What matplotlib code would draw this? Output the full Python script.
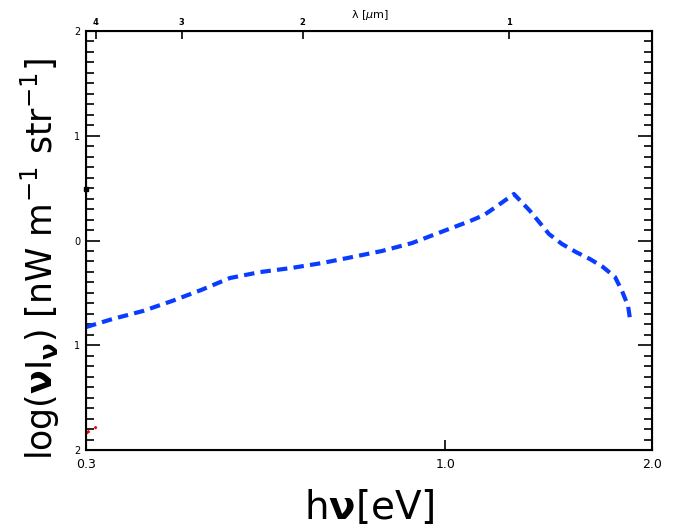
import numpy as np
import matplotlib
matplotlib.use('Agg')
import matplotlib.pyplot as plt
from matplotlib.ticker import FixedLocator, MultipleLocator, NullLocator, NullFormatter

# photon energy [eV] and log(nu I_nu)
energy = [0.300, 0.328, 0.363, 0.400, 0.441, 0.486, 0.538, 0.596, 0.662, 0.732,
          0.809, 0.895, 0.986, 1.087, 1.139, 1.190, 1.259, 1.329, 1.416, 1.479,
          1.550, 1.625, 1.697, 1.767, 1.809, 1.846, 1.858]
log_nuinu = [-0.826, -0.749, -0.673, -0.578, -0.473, -0.358, -0.301, -0.263, -0.215, -0.158,
             -0.100, -0.024, 0.081, 0.186, 0.243, 0.329, 0.444, 0.282, 0.062, -0.033,
             -0.110, -0.177, -0.253, -0.348, -0.482, -0.625, -0.749]

red_energy = [0.300, 0.305, 0.311]
red_log = [-1.84, -1.81, -1.78]

x_ticks = [0.3, 1.0, 2.0]
x_ticklabels = ['0.3', '1.0', '2.0']
y_ticks = [-2, -1, 0, 1, 2]
y_ticklabels = ['2', '1', '0', '1', '2']
lam_ticks = [4, 3, 2, 1]
hc = 1.2398  # eV um

fig = plt.figure(figsize=(6.79, 5.32), dpi=100)
ax = fig.add_axes([0.1267, 0.1541, 0.8335, 0.7876])

ax.plot(energy, log_nuinu, color='#0a3cff', lw=3, dashes=(2.5, 1.5))
ax.plot(red_energy, red_log, color='red', lw=2, dashes=(1.5, 2))
ax.plot([0.3], [0.49], marker='s', ms=3, color='black', clip_on=False)

ax.set_xscale('log')
ax.set_xlim(0.3, 2.0)
ax.set_ylim(-2, 2)
ax.xaxis.set_major_locator(FixedLocator(x_ticks))
ax.xaxis.set_minor_locator(NullLocator())
ax.set_xticklabels(x_ticklabels)
ax.xaxis.set_minor_formatter(NullFormatter())
ax.set_yticks(y_ticks)
ax.set_yticklabels(y_ticklabels)
ax.yaxis.set_minor_locator(MultipleLocator(0.1))

ax.tick_params(axis='x', which='major', direction='in', length=7, width=1.2,
               labelsize=9, pad=6, top=False)
ax.tick_params(axis='y', which='major', direction='in', length=10, width=1.2,
               labelsize=7, pad=4, right=True)
ax.tick_params(axis='y', which='minor', direction='in', length=6, width=1.2, right=True)
for s in ax.spines.values():
    s.set_linewidth(1.5)

ax2 = ax.twiny()
ax2.set_xscale('log')
ax2.set_xlim(hc / 0.3, hc / 2.0)
ax2.xaxis.set_major_locator(FixedLocator(lam_ticks))
ax2.xaxis.set_minor_locator(NullLocator())
ax2.set_xticklabels([str(t) for t in lam_ticks], fontweight='bold')
ax2.xaxis.set_minor_formatter(NullFormatter())
ax2.tick_params(axis='x', direction='in', length=6, width=1.2, labelsize=6, pad=3)
fig.text(0.545, 0.972, r'$\mathrm{\lambda}$ [$\mu$m]', fontsize=8, ha='center', va='center')

ax.set_xlabel(r'h$\mathbf{\nu}$[eV]', fontsize=28, labelpad=12)
ax.set_ylabel(r'log($\mathbf{\nu}$I$_{\mathbf{\nu}}$) [nW m$^{\mathrm{-1}}$ str$^{\mathrm{-1}}$]',
              fontsize=25)
ax.yaxis.set_label_coords(-0.042, 0.455)

fig.savefig('out.png', dpi=100)
